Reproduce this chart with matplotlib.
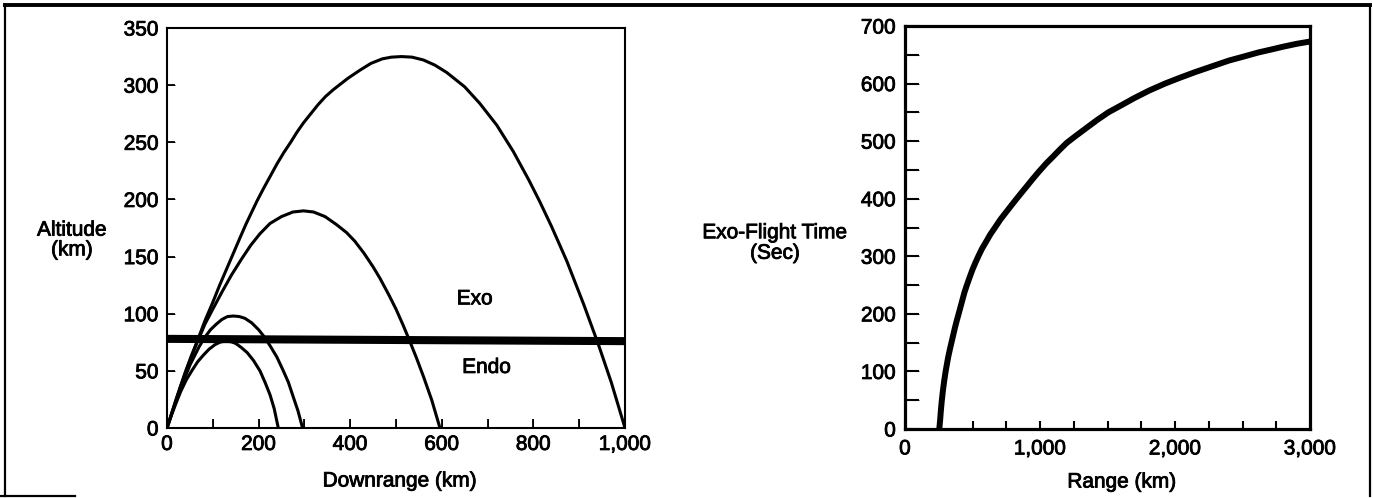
# ──────────────────────────────────────────────────────────────
# plot.py – ballistic trajectories (endo / exo) and exo-flight time
# ──────────────────────────────────────────────────────────────
import matplotlib
matplotlib.use("Agg")
import matplotlib.pyplot as plt
import matplotlib.patheffects as pe
from matplotlib.lines import Line2D
from matplotlib.ticker import MultipleLocator, FuncFormatter

plt.rcParams["font.family"] = ["Liberation Sans", "DejaVu Sans"]
# slight stroke so the text looks as heavy as the scanned original
plt.rcParams["path.effects"] = [pe.withStroke(linewidth=0.6, foreground="black")]

# ──────────────────────────────────────────────────────────────
# DATA
# ──────────────────────────────────────────────────────────────
# 1,000 km trajectory
traj1000_x = [0, 10, 20, 30, 40, 53, 67, 83, 100, 115, 130, 145, 160, 172, 185,
              197, 210, 225, 240, 255, 270, 284, 298, 314, 330, 346, 363, 395,
              421, 445, 470, 490, 512, 535, 560, 585, 611, 650, 683, 720, 756,
              790, 814, 840, 873, 910, 942, 970, 1000]
traj1000_y = [0, 12.5, 25, 37, 49, 63, 77, 94, 110, 125, 139, 153, 167, 178, 189,
              199, 209, 220, 231, 241, 250, 259, 267, 275, 283, 290, 296, 306,
              313, 319, 323, 324.5, 325, 324.5, 322, 317.5, 311, 298.5, 284, 265,
              242, 217, 198, 176, 146, 108, 73, 40, 0]

# 600 km trajectory
traj600_x = [0, 10, 20, 30, 40, 53, 67, 83, 100, 120, 141, 163, 183, 203, 225,
             250, 275, 298, 320, 345, 370, 392, 410, 430, 450, 465, 485, 500,
             515, 527, 545, 560, 578, 596]
traj600_y = [0, 12.5, 25, 37, 48, 62, 76, 91, 104, 119, 134, 148, 160, 170, 179,
             185, 189, 190, 189, 185, 178, 171, 163.5, 153, 141, 131, 116, 104,
             90.5, 79, 61, 45, 24.5, 0]

# 300 km trajectory
traj300_x = [0, 10, 20, 30, 40, 50, 60, 70, 82, 95, 108, 120, 132, 145, 158,
             170, 185, 200, 212, 225, 240, 254, 265, 275, 286, 296]
traj300_y = [0, 12, 24, 35, 45, 55, 63, 71, 79, 86, 91, 95, 97.5, 98, 97.5,
             96, 92, 86, 80, 72, 62, 50, 40, 28, 15, 0]

# 250 km trajectory
traj250_x = [0, 10, 20, 30, 42, 54, 67, 80, 92, 105, 117, 128, 140, 150, 162,
             175, 189, 203, 214, 225, 234, 243]
traj250_y = [0, 11.5, 22, 32, 42, 50, 58, 64, 69, 73, 75.3, 76, 75.5, 74, 70.5,
             66, 59, 50, 40, 29, 17, 0]

# endo / exo boundary
boundary_x = [0, 1000]
boundary_y = [78, 76]

# exo-flight time vs range
range_km = [254, 260, 265, 272, 280, 290, 301, 310, 320, 333, 346, 358, 370,
            382, 395, 410, 425, 440, 457, 478, 500, 520, 543, 570, 600, 632,
            667, 707, 750, 790, 827, 865, 900, 945, 988, 1045, 1100, 1150, 1198,
            1270, 1350, 1425, 1506, 1600, 1700, 1810, 1926, 2035, 2150, 2275,
            2400, 2510, 2617, 2710, 2800, 2900, 3000]
exo_time = [0, 15, 30, 48, 65, 83, 100, 112, 125, 139, 152, 164, 176,
            187, 198, 211, 224, 237, 249, 263, 277, 288, 300, 313, 325, 338,
            350, 364, 377, 389, 400, 411, 421, 434, 446, 461, 474, 486, 497,
            510, 524, 537, 550, 562, 575, 588, 600, 610, 620, 630,
            640, 647, 654, 659, 664, 669, 673]

FS = 15
W, H = 1373, 498


def thousands(v, _pos):
    return f"{int(v):,}"


# ──────────────────────────────────────────────────────────────
# FIGURE
# ──────────────────────────────────────────────────────────────
fig = plt.figure(figsize=(W / 100, H / 100), dpi=100)

# outer frame
fig.add_artist(Line2D([5 / W, 1370 / W], [1 - 5 / H, 1 - 5 / H], color="black", lw=2.8,
                      transform=fig.transFigure))
fig.add_artist(Line2D([5 / W, 5 / W], [1 - 5 / H, 1 - 496 / H], color="black", lw=1.6,
                      transform=fig.transFigure))
fig.add_artist(Line2D([1370 / W, 1370 / W], [1 - 5 / H, 1 - 496 / H], color="black", lw=1.6,
                      transform=fig.transFigure))
fig.add_artist(Line2D([0, 75 / W], [1 - 496 / H, 1 - 496 / H], color="black", lw=1.6,
                      transform=fig.transFigure))

# --- left panel: trajectories ---
ax1 = fig.add_axes([167 / W, 1 - 428 / H, 458 / W, 400 / H])
for xs, ys in [(traj1000_x, traj1000_y), (traj600_x, traj600_y),
               (traj300_x, traj300_y), (traj250_x, traj250_y)]:
    ax1.plot(xs, ys, color="black", lw=2.2, solid_capstyle="round",
             solid_joinstyle="round")
ax1.plot(boundary_x, boundary_y, color="black", lw=5.8, solid_capstyle="butt")
ax1.text(672, 113, "Exo", fontsize=FS, ha="center", va="center")
ax1.text(698, 53, "Endo", fontsize=FS, ha="center", va="center")

ax1.set_xlim(0, 1000)
ax1.set_ylim(0, 350)
ax1.xaxis.set_major_locator(MultipleLocator(200))
ax1.xaxis.set_minor_locator(MultipleLocator(100))
ax1.yaxis.set_major_locator(MultipleLocator(50))
ax1.xaxis.set_major_formatter(FuncFormatter(thousands))
ax1.tick_params(axis="both", which="both", direction="in", width=1.3,
                labelsize=FS, top=False, right=False)
ax1.tick_params(axis="x", which="both", length=6.5, pad=5)
ax1.tick_params(axis="y", length=6, pad=6)
for sp in ax1.spines.values():
    sp.set_linewidth(1.5)

# --- right panel: exo-flight time ---
ax2 = fig.add_axes([905 / W, 1 - 429 / H, 405 / W, 403 / H])
ax2.plot(range_km, exo_time, color="black", lw=4.3, solid_capstyle="butt",
         solid_joinstyle="round")
ax2.set_xlim(0, 3000)
ax2.set_ylim(0, 700)
ax2.xaxis.set_major_locator(MultipleLocator(1000))
ax2.xaxis.set_minor_locator(MultipleLocator(250))
ax2.yaxis.set_major_locator(MultipleLocator(100))
ax2.yaxis.set_minor_locator(MultipleLocator(50))
ax2.xaxis.set_major_formatter(FuncFormatter(thousands))
ax2.tick_params(axis="both", which="both", direction="in", width=1.5,
                labelsize=FS, top=False, right=False)
ax2.tick_params(axis="x", which="both", length=6, pad=7.5)
ax2.tick_params(axis="y", which="both", length=10, pad=6.5)
for sp in ax2.spines.values():
    sp.set_linewidth(2.3)

# --- axis titles ---
fig.text(72 / W, 1 - 240 / H, "Altitude\n(km)", fontsize=FS, ha="center",
         va="center", linespacing=1.05)
fig.text(775 / W, 1 - 243 / H, "Exo-Flight Time\n(Sec)", fontsize=FS, ha="center",
         va="center", linespacing=1.1)
fig.text(400 / W, 1 - 481 / H, "Downrange (km)", fontsize=FS, ha="center", va="center")
fig.text(1122 / W, 1 - 482 / H, "Range (km)", fontsize=FS, ha="center", va="center")

fig.savefig("out.png", dpi=100)
